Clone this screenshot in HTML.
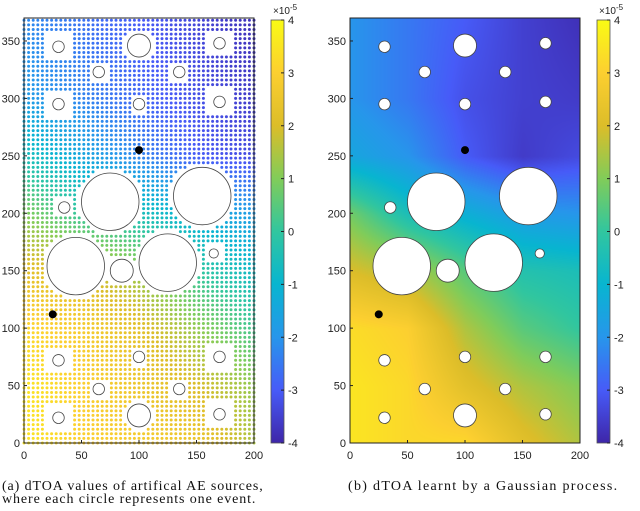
<!DOCTYPE html>
<html><head><meta charset="utf-8">
<style>
body{margin:0;background:#fff;width:640px;height:511px;overflow:hidden;position:relative;font-family:"Liberation Sans",sans-serif}
svg{position:absolute;left:0;top:0}
canvas{position:absolute}
.cap{position:absolute;font-family:"Liberation Serif",serif;font-size:14px;color:#111;line-height:13px;white-space:nowrap}
</style></head><body>
<canvas id="gp" style="left:350px;top:18px" width="230" height="425"></canvas>
<svg id="s" width="640" height="511"></svg>
<div class="cap" style="left:2px;top:480px;letter-spacing:0.9px">(a) dTOA values of artifical AE sources,<br>where each circle represents one event.</div>
<div class="cap" style="left:348px;top:480px;letter-spacing:1.3px">(b) dTOA learnt by a Gaussian process.</div>
<script>
// data
const gridX=[0,50,100,150,200];
const gridY=[0,50,100,150,200,250,300,370];
const valsA=[[3.5,3,2.8,2.5,1.5],[3.5,3,2.5,2,1.2],[3.2,2.8,2.2,1.2,0.2],[2.2,2,1.2,0,-0.8],[1,0,-0.5,-1.3,-1.8],[-0.5,-1.5,-2.3,-3,-3.3],[-1.8,-2.3,-2.8,-3.2,-3.6],[-2.2,-2.6,-3,-3.4,-3.8]];
const valsB=[[3.5,3.2,3.2,2.2,1.5],[3.5,3.2,2.2,1.5,1],[3.3,3,1.5,0.5,0],[2,1.5,0.5,-0.3,-0.5],[0.8,-0.5,-1.2,-1.8,-2],[-1.5,-2,-3,-3.6,-3.3],[-2,-2.5,-3.2,-3.5,-3.6],[-2,-2.5,-3,-3.5,-3.8]];
const holesX=[30,100,170,65,135,30,100,170,35,85,75,155,45,85,125,165,30,100,170,65,135,30,100,170];
const holesY=[345,346,348,323,323,295,295,297,205,220,210,215,154,150,157,165,72,75,75,47,47,22,24,25];
const holesR=[5,10,5,5,5,5,5,5,5,10,25,25,25,10,25,4,5,5,5,5,5,5,10,5];
const eventsX=[100,25];
const eventsY=[255,112];
const xTicks=[0,50,100,150,200];
const yTicks=[0,50,100,150,200,250,300,350];
const cTicks=[-4,-3,-2,-1,0,1,2,3,4];

const NS="http://www.w3.org/2000/svg";const S=document.getElementById('s');
function el(t,a,p){const e=document.createElementNS(NS,t);for(const k in a)e.setAttribute(k,a[k]);(p||S).appendChild(e);return e;}
const top0=18,bot=443;
function sy(v){return bot-v*(bot-top0)/370;}
function mkx(x0){return v=>x0+v*230/200;}
const P=[[0,62,38,168],[0.125,71,91,248],[0.25,39,150,235],[0.375,8,181,208],[0.5,49,198,159],[0.625,129,204,89],[0.75,220,189,41],[0.875,252,207,48],[1,249,251,20]];
function cmap(v){let t=(v+4)/8;t=Math.max(0,Math.min(1,t));for(let i=1;i<P.length;i++){if(t<=P[i][0]){const a=P[i-1],b=P[i],f=(t-a[0])/(b[0]-a[0]);return [0,1,2].map(j=>Math.round(a[j+1]+f*(b[j+1]-a[j+1])));}}return [249,251,20];}
function field(vals,x,y){let i=0;while(i<gridX.length-2&&x>gridX[i+1])i++;let j=0;while(j<gridY.length-2&&y>gridY[j+1])j++;
const fx=Math.max(0,Math.min(1,(x-gridX[i])/(gridX[i+1]-gridX[i]))),fy=Math.max(0,Math.min(1,(y-gridY[j])/(gridY[j+1]-gridY[j])));
const a=vals[j][i]*(1-fx)+vals[j][i+1]*fx,b=vals[j+1][i]*(1-fx)+vals[j+1][i+1]*fx;return a*(1-fy)+b*fy;}
function inHole(x,y,m){for(let k=0;k<holesX.length;k++){const dx=x-holesX[k],dy=y-holesY[k];if(holesR[k]<=5&&m>0){const h=(holesX[k]===30||holesX[k]===170)?12:8;if(Math.abs(dx)<h&&Math.abs(dy)<h)return true;}else if(dx*dx+dy*dy<(holesR[k]+m)*(holesR[k]+m))return true;}return false;}

function axes(x0,name){
  const sx=mkx(x0);
  el('rect',{x:x0,y:top0,width:230,height:bot-top0,fill:'none',stroke:'#222','stroke-width':1,});
  xTicks.forEach(v=>{const t=el('text',{x:sx(v),y:bot+16,'font-size':11,'text-anchor':'middle',fill:'#222'});t.textContent=v;
    
    
    el('line',{x1:sx(v),x2:sx(v),y1:bot,y2:bot-3,stroke:'#222'});});
  yTicks.forEach(v=>{const t=el('text',{x:x0-4,y:sy(v)+4,'font-size':11,'text-anchor':'end',fill:'#222'});t.textContent=v;
    
    
    el('line',{x1:x0,x2:x0+3,y1:sy(v),y2:sy(v),stroke:'#222'});});
  for(let k=0;k<holesX.length;k++){const c=el('circle',{cx:sx(holesX[k]),cy:sy(holesY[k]),r:holesR[k]*1.15,fill:'#fff',stroke:'#444','stroke-width':0.8});
    
    }
  for(let k=0;k<eventsX.length;k++){const c=el('circle',{cx:sx(eventsX[k]),cy:sy(eventsY[k]),r:4,fill:'#000'});
    
    }
}
function colorbar(x,name){
  const id='g'+name;const d=el('defs',{});const g=el('linearGradient',{id:id,x1:0,y1:1,x2:0,y2:0},d);
  P.forEach(p=>el('stop',{offset:p[0],'stop-color':`rgb(${p[1]},${p[2]},${p[3]})`},g));
  el('rect',{x:x,y:20,width:13,height:423,fill:`url(#${id})`,stroke:'#555','stroke-width':0.8,});
  cTicks.forEach(v=>{const y=443-(v+4)/8*423;const t=el('text',{x:x+17,y:y+4,'font-size':11,fill:'#222'});t.textContent=v;
    
    
    el('line',{x1:x+10,x2:x+13,y1:y,y2:y,stroke:'#222'});});
  const e=el('text',{x:x+2,y:14,'font-size':10,fill:'#222',});e.innerHTML='×10<tspan dy="-4" font-size="8">-5</tspan>';
}
// left scatter
const sxA=mkx(24);
for(let x=0;x<=200;x+=4){for(let y=0;y<=368;y+=4){if(inHole(x,y,4))continue;const c=cmap(field(valsA,x,y));
  const d=el('circle',{cx:sxA(x),cy:sy(y),r:1.5,fill:`rgb(${c})`});
  
  }}
axes(24,'left-axes');colorbar(271,'left-colorbar');
// right heatmap
const cv=document.getElementById('gp').getContext('2d');const im=cv.createImageData(230,425);
for(let py=0;py<425;py++)for(let px=0;px<230;px++){const x=px*200/230,y=370-py*370/425;const c=cmap(field(valsB,x,y));const o=(py*230+px)*4;im.data[o]=c[0];im.data[o+1]=c[1];im.data[o+2]=c[2];im.data[o+3]=255;}
cv.putImageData(im,0,0);
axes(350,'right-axes');colorbar(597,'right-colorbar');
</script>
</body></html>
